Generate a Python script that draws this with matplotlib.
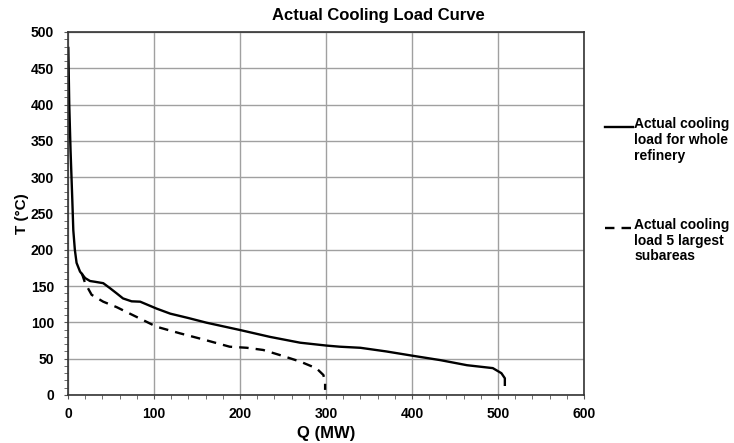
import matplotlib
matplotlib.use('Agg')
import matplotlib.pyplot as plt
from matplotlib.lines import Line2D
import numpy as np

plt.rcParams['font.family'] = ['Liberation Sans', 'DejaVu Sans']
plt.rcParams['font.weight'] = 'bold'

# whole refinery (Q in MW, T in degC)
q_whole = [0.4, 1.5, 3, 5, 6.2, 8, 10, 14, 20, 25.6, 31, 41, 49, 56.6, 64,
           74, 84, 93, 103, 119, 140, 161, 200, 235, 270, 301, 316, 340,
           370, 401, 433, 464, 494, 504, 508, 508]
t_whole = [478, 400, 337, 270, 227, 200, 182, 170, 161, 157, 156, 154, 147,
           140, 133, 129, 128.5, 124, 119, 112, 106, 99.6, 89.5, 80, 72, 68,
           66.5, 65, 60, 54, 48, 41, 37, 30, 23, 14]

# 5 largest subareas
q_sub = [16, 20, 27.5, 41, 56.6, 72, 87.6, 103, 130, 157, 188, 208, 227,
         250, 270, 289, 297, 299, 299]
t_sub = [168, 154, 138, 128.5, 121, 112, 103, 94, 85, 76.6, 66.5, 65, 62,
         53.7, 46, 36.7, 27.5, 18, 7]

labels = ['Actual cooling\nload for whole\nrefinery',
          'Actual cooling\nload 5 largest\nsubareas']

fig = plt.figure(figsize=(7.34, 4.43), dpi=100)
ax = fig.add_axes([0.0926, 0.1084, 0.703, 0.8194])

ax.plot(q_whole, t_whole, color='black', lw=1.7)
ax.plot(q_sub, t_sub, color='black', lw=1.7, ls=(0, (4, 3)))

ax.set_xlim(0, 600)
ax.set_ylim(0, 500)
ax.set_xticks(np.arange(0, 601, 100))
ax.set_yticks(np.arange(0, 501, 50))
ax.set_xticks(np.arange(0, 601, 20), minor=True)
ax.set_yticks(np.arange(0, 501, 10), minor=True)
ax.grid(True, which='major', color='#a0a0a0', lw=1.0)
ax.tick_params(which='both', direction='out', length=3, color='#555555', labelsize=10)
ax.tick_params(axis='x', pad=6)
ax.tick_params(axis='y', pad=7)
for lbl in ax.get_xticklabels() + ax.get_yticklabels():
    lbl.set_fontweight('bold')
for s in ax.spines.values():
    s.set_color('#333333')
    s.set_linewidth(1.2)

fig.text(0.515, 0.966, 'Actual Cooling Load Curve', fontsize=12,
         fontweight='bold', ha='center', va='center')
ax.set_xlabel('Q (MW)', fontsize=12, fontweight='bold', labelpad=3)
ax.set_ylabel('T (°C)', fontsize=11, fontweight='bold', labelpad=1)

# legend drawn at the right, handle aligned with first text line
for lab, style, ypos in zip(labels, ['-', (0, (4, 3))], [0.713, 0.486]):
    fig.add_artist(Line2D([0.824, 0.862], [ypos, ypos], color='black', lw=1.7,
                          ls=style, transform=fig.transFigure))
    fig.text(0.864, ypos + 0.022, lab, fontsize=10, fontweight='bold', va='top',
             ha='left', linespacing=1.15)

fig.savefig('out.png', dpi=100)
